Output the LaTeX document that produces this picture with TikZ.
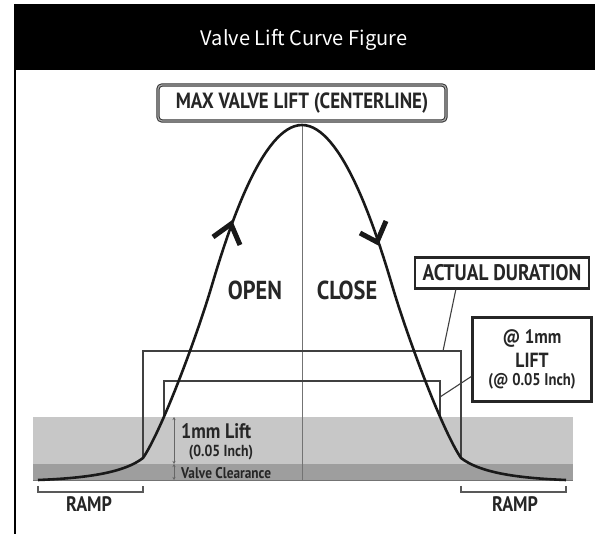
\documentclass[tikz,border=0pt]{standalone}
\usepackage{fontspec}
\setmainfont{PT Sans}
\newfontfamily\labfont[FakeStretch=0.86]{PT Sans}
\newfontfamily\titlefont{Noto Sans CJK JP}
\usetikzlibrary{arrows.meta,calc}
\newcommand\lfs[1]{\fontsize{#1}{#1}\selectfont}
\begin{document}
\begin{tikzpicture}[x=1pt,y=-1pt,
  thinln/.style={draw=black!75,line width=1.1pt},
  boxst/.style={draw=black!85,line width=2.4pt,fill=white,inner sep=0pt,font=\labfont\bfseries,text=black!85},
  lbl/.style={inner sep=0pt,font=\labfont\bfseries,text=black!85},
  curvest/.style={draw=black!90,line width=2.6pt},
  chev/.style={draw=black!90,line width=5pt,line join=miter,line cap=butt},
  dimln/.style={draw=black!60,line width=0.8pt,{Stealth[length=3pt,width=3pt]}-{Stealth[length=3pt,width=3pt]}},
  brk/.style={draw=black!65,line width=1.4pt}
]
\useasboundingbox (0,0) rectangle (595,534);
% frame and title bar
\fill[black] (14,4) rectangle (595,70);
\draw[black,line width=2pt] (15,4) -- (15,534);
\node[text=white,font=\titlefont\lfs{20}] (title) at (304,40) {Valve Lift Curve Figure};
% gray bands
\fill[black!22] (33,417) rectangle (573,464);
\fill[black!38] (33,464) rectangle (573,481);
\draw[black!55,line width=0.8pt] (33,480.5) -- (573,480.5);
% centerline
\coordinate (peak) at (302,125);
\coordinate (base) at (302,480);
\draw[black!55,line width=0.9pt] (peak) -- (base);
% duration rectangles
\coordinate (kl) at (143,458);
\coordinate (kr) at (461,458);
\coordinate (otl) at (143,351);
\coordinate (otr) at (461,351);
\draw[thinln] (kl) -- (otl) -- (otr) -- (kr);
\coordinate (il) at (164,417);
\coordinate (ir) at (440,417);
\coordinate (itl) at (164,381);
\coordinate (itr) at (440,381);
\draw[thinln] (il) -- (itl) -- (itr) -- (ir);
% lift curve
\draw[curvest] (38,480) .. controls (90,478) and (125,472) .. (143,458)
  .. controls (162,430) and (197,336) .. (212,285)
  .. controls (228,231) and (262,125) .. (302,125)
  .. controls (342,125) and (376,231) .. (392,285)
  .. controls (407,336) and (442,430) .. (461,458)
  .. controls (479,472) and (514,478) .. (566,480);
% direction chevrons
\draw[chev] (213,237) -- (231,224) -- (240,245);
\draw[chev] (360,233) -- (377,242) -- (386,221);
% labels
\node[lbl,font=\labfont\bfseries\lfs{26}] (open) at (255,290) {OPEN};
\node[lbl,font=\labfont\bfseries\lfs{26}] (close) at (347,290) {CLOSE};
\node[boxst,draw=black!80,line width=1pt,double=black!35,double distance=1.3pt,rounded corners=4pt,
  minimum width=288pt,minimum height=36pt,font=\labfont\bfseries\lfs{22}] (max) at (302,103) {MAX VALVE LIFT (CENTERLINE)};
\node[boxst,minimum width=174pt,minimum height=31pt,font=\labfont\bfseries\lfs{22.5}] (dur) at (502,273) {ACTUAL DURATION};
\node[boxst,minimum width=119pt,minimum height=84pt,align=center] (lift) at (532,359.5)
  {{\lfs{19.5}@ 1mm}\\[5pt]{\lfs{20.5}LIFT}\\[5pt]{\lfs{17}(@ 0.05 Inch)}};
\draw[thinln] ($(dur.south west)+(42,0)$) -- (443,351) coordinate (durend);
\draw[thinln] ($(lift.west)+(0,17)$) -- (440,397) coordinate (liftend);
% dimension marks
\coordinate (d1) at (174,417);
\coordinate (d2) at (174,464);
\coordinate (d3) at (174,480);
\draw[dimln] (d1) -- (d2);
\draw[dimln] (d2) -- (d3);
\node[lbl,anchor=west,font=\labfont\bfseries\lfs{21}] (mm) at (181,431) {1mm Lift};
\node[lbl,font=\labfont\bfseries\lfs{16}] (inch) at (221,452.5) {(0.05 Inch)};
\node[lbl,anchor=west,font=\labfont\bfseries\lfs{15.5}] (vc) at (181,473) {Valve Clearance};
% ramps
\draw[brk] (38,486) -- (38,492) -- (143,492) -- (143,486);
\draw[brk] (461,486) -- (461,492) -- (566,492) -- (566,486);
\node[lbl,font=\labfont\bfseries\lfs{21}] (rl) at (89,504) {RAMP};
\node[lbl,font=\labfont\bfseries\lfs{21}] (rr) at (515,504) {RAMP};
\end{tikzpicture}
\end{document}
